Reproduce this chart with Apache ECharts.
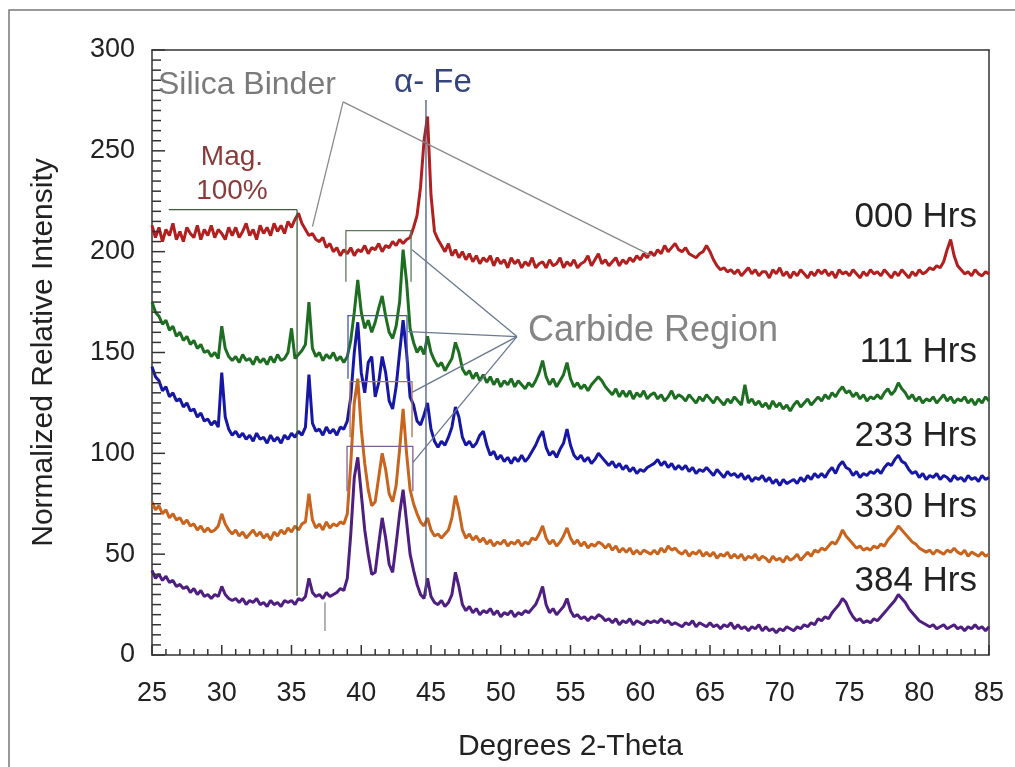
<!DOCTYPE html>
<html>
<head>
<meta charset="utf-8">
<script src="https://cdn.jsdelivr.net/npm/echarts@6/dist/echarts.min.js"></script>
<style>
  html, body { margin: 0; background: #fff; }
  #chart { width: 1015px; height: 767px; }
</style>
</head>
<body>
<div id="chart"></div>
<script>
// 2-theta scan positions (deg)
const theta = [
  25,25.25,25.5,25.75,26,26.25,26.5,26.75, 27,27.25,27.5,27.75,28,28.25,28.5,28.75,
  29,29.25,29.5,29.75,30,30.25,30.5,30.75, 31,31.25,31.5,31.75,32,32.25,32.5,32.75,
  33,33.25,33.5,33.75,34,34.25,34.5,34.75, 35,35.25,35.5,35.75,36,36.25,36.5,36.75,
  37,37.25,37.5,37.75,38,38.25,38.5,38.75, 39,39.25,39.5,39.75,40,40.25,40.5,40.75,
  41,41.25,41.5,41.75,42,42.25,42.5,42.75, 43,43.25,43.5,43.75,44,44.25,44.5,44.75,
  45,45.25,45.5,45.75,46,46.25,46.5,46.75, 47,47.25,47.5,47.75,48,48.25,48.5,48.75,
  49,49.25,49.5,49.75,50,50.25,50.5,50.75, 51,51.25,51.5,51.75,52,52.25,52.5,52.75,
  53,53.25,53.5,53.75,54,54.25,54.5,54.75, 55,55.25,55.5,55.75,56,56.25,56.5,56.75,
  57,57.25,57.5,57.75,58,58.25,58.5,58.75, 59,59.25,59.5,59.75,60,60.25,60.5,60.75,
  61,61.25,61.5,61.75,62,62.25,62.5,62.75, 63,63.25,63.5,63.75,64,64.25,64.5,64.75,
  65,65.25,65.5,65.75,66,66.25,66.5,66.75, 67,67.25,67.5,67.75,68,68.25,68.5,68.75,
  69,69.25,69.5,69.75,70,70.25,70.5,70.75, 71,71.25,71.5,71.75,72,72.25,72.5,72.75,
  73,73.25,73.5,73.75,74,74.25,74.5,74.75, 75,75.25,75.5,75.75,76,76.25,76.5,76.75,
  77,77.25,77.5,77.75,78,78.25,78.5,78.75, 79,79.25,79.5,79.75,80,80.25,80.5,80.75,
  81,81.25,81.5,81.75,82,82.25,82.5,82.75, 83,83.25,83.5,83.75,84,84.25,84.5,84.75,
  85
];

const hrs000 = [
  213,207,212,205,211,208,214,206, 210,205,212,209,207,213,206,211,
  208,213,207,211,209,206,212,208, 212,207,210,214,208,211,206,213,
  209,212,208,214,210,213,209,215, 212,216,219,214,211,208,209,206,
  205,207,202,204,200,202,198,201, 199,202,198,201,200,203,199,202,
  201,204,200,203,202,205,203,206, 204,206,207,212,218,232,255,267,
  228,210,206,203,200,204,198,201, 197,200,196,199,195,198,194,197,
  195,198,193,197,194,196,192,197, 194,196,192,195,193,197,192,194,
  195,192,196,193,194,197,192,195, 193,196,192,194,195,198,193,196,
  199,194,196,193,195,197,193,196, 194,197,195,198,196,199,197,200,
  198,201,199,203,200,202,204,201, 200,202,199,198,197,199,200,203,
  200,196,193,191,192,190,191,189, 191,188,190,192,189,191,188,190,
  190,187,191,189,192,188,190,187, 190,188,191,189,187,190,188,191,
  189,191,188,190,187,191,189,190, 188,191,189,187,190,188,191,189,
  190,188,191,189,187,190,188,191, 189,187,190,188,191,189,190,192,
  191,193,192,195,201,206,198,193, 191,189,190,188,191,189,188,190,
  189
];

const hrs111 = [
  175,170,168,164,166,161,163,158, 160,156,158,154,156,152,154,150,
  151,148,150,147,163,152,148,146, 148,145,149,146,147,144,148,145,
  147,144,148,145,149,146,147,150, 162,147,149,151,154,175,152,148,
  150,146,149,147,150,146,148,145, 148,156,170,186,170,162,166,160,
  165,172,178,168,160,157,163,175, 201,185,162,155,150,153,149,158,
  150,146,143,145,141,144,147,155, 150,142,139,141,137,140,136,139,
  135,138,134,137,133,136,134,137, 133,136,134,132,135,133,136,140,
  146,138,134,137,133,136,139,145, 137,133,135,132,134,131,134,136,
  138,136,133,131,129,132,128,131, 128,131,127,130,128,131,127,129,
  130,127,129,126,128,131,127,129, 128,126,129,127,125,128,126,129,
  127,125,128,126,124,127,125,128, 126,124,134,125,127,124,126,123,
  125,122,126,123,125,122,124,121, 124,126,123,125,127,124,126,128,
  126,129,127,130,128,131,133,130, 131,128,130,127,129,126,128,127,
  129,127,130,132,129,131,135,132, 130,127,129,126,128,125,127,126,
  128,125,127,129,126,128,125,127, 126,128,125,127,124,127,125,128,
  126
];

const hrs233 = [
  143,138,136,131,133,128,130,126, 127,123,125,121,122,118,120,116,
  117,114,116,113,140,118,112,109, 111,108,110,107,109,106,110,107,
  108,105,109,106,108,105,109,107, 110,108,111,109,113,139,115,111,
  112,109,113,110,112,109,113,112, 116,128,150,165,140,130,145,148,
  128,135,148,140,126,122,133,150, 166,150,128,124,116,114,119,125,
  112,106,103,106,104,108,113,123, 118,108,104,106,103,105,109,111,
  104,99,101,97,99,96,98,95, 98,96,99,96,98,101,104,108,
  111,103,99,101,98,102,105,112, 104,99,97,99,96,98,95,97,
  100,98,96,94,96,93,95,92, 94,91,93,90,92,91,93,94,
  95,97,94,96,93,95,92,94, 92,94,91,93,90,92,91,93,
  91,89,92,90,88,91,89,90, 88,90,87,89,86,88,87,89,
  86,88,85,87,84,87,85,86, 87,85,88,86,89,87,90,88,
  90,88,91,93,90,94,96,93, 92,89,91,88,90,89,91,90,
  92,90,93,95,94,97,99,96, 95,92,90,91,88,90,87,89,
  88,90,87,89,88,86,89,87, 88,86,89,87,88,86,89,87,
  88
];

const hrs330 = [
  76,72,74,70,72,68,70,67, 68,65,67,64,65,62,64,61,
  63,61,62,64,70,65,62,60, 62,59,61,58,60,62,59,61,
  58,60,57,61,59,62,60,63, 61,64,62,65,66,80,67,63,
  65,62,66,63,65,64,66,65, 70,95,125,137,112,95,82,74,
  76,88,100,92,80,76,84,102, 122,100,82,75,70,66,64,68,
  62,59,60,58,60,62,68,79, 72,62,58,60,57,59,56,58,
  55,57,54,56,55,57,54,56, 55,57,54,56,55,58,57,60,
  64,58,55,57,54,56,59,63, 58,55,57,54,56,53,55,54,
  56,55,53,55,52,54,51,53, 51,53,50,52,50,52,51,50,
  52,50,53,51,54,52,53,51, 50,52,49,51,50,52,49,51,
  49,51,48,50,49,51,48,50, 48,50,47,49,48,50,47,49,
  48,46,49,47,48,46,49,47, 48,50,47,49,51,49,52,51,
  53,52,54,56,55,58,62,59, 57,55,53,54,52,53,52,54,
  53,55,54,57,59,61,64,62, 60,58,56,55,53,52,51,52,
  50,52,51,50,52,51,53,51, 50,52,49,51,50,49,51,49,
  50
];

const hrs384 = [
  42,38,40,37,39,36,37,34, 35,33,34,31,33,30,32,29,
  30,28,30,29,34,30,28,27, 28,26,28,25,27,26,28,25,
  26,24,27,25,26,24,27,26, 27,25,28,27,29,38,31,29,
  30,28,31,29,30,31,33,32, 38,60,88,98,80,62,50,40,
  41,55,68,58,45,41,55,70, 82,66,50,42,35,30,28,38,
  29,26,25,27,24,26,30,41, 34,25,22,24,21,23,20,22,
  21,23,20,22,19,21,20,22, 19,21,20,22,21,23,25,29,
  34,25,21,23,20,22,24,28, 22,19,20,18,19,17,19,18,
  20,19,17,18,16,18,15,17, 16,18,15,17,16,15,17,16,
  17,16,18,16,17,15,16,15, 14,16,15,17,14,16,15,14,
  16,14,15,13,15,14,16,13, 15,13,14,12,14,13,15,12,
  14,12,13,11,13,12,14,13, 12,14,13,15,14,16,15,18,
  17,19,18,21,23,25,28,26, 22,19,17,18,16,17,16,18,
  17,19,21,23,25,27,30,28, 26,23,21,19,17,16,15,14,
  15,13,14,15,13,14,15,13, 14,12,14,13,15,13,14,12,
  14
];

const seriesNames = ['000 Hrs', '111 Hrs', '233 Hrs', '330 Hrs', '384 Hrs'];
const seriesValues = [hrs000, hrs111, hrs233, hrs330, hrs384];
const seriesColors = ['#B21F1F', '#1E6E22', '#1717A6', '#C8641E', '#4E1E80'];

const xTicks = { min: 25, max: 85, step: 5, minor: 1 };
const yTicks = { min: 0, max: 300, step: 50, minor: 5 };

const chart = echarts.init(document.getElementById('chart'));
const font = 'Liberation Sans, Arial, sans-serif';
const frame = { show: true, onZero: false, lineStyle: { color: '#333', width: 1.5 } };

chart.setOption({
  animation: false,
  backgroundColor: '#fff',
  grid: { left: 152, right: 26, top: 50, bottom: 111, show: false },
  xAxis: [{
    type: 'value', min: xTicks.min, max: xTicks.max, interval: xTicks.step, position: 'bottom',
    name: 'Degrees 2-Theta', nameLocation: 'middle', nameGap: 77,
    nameTextStyle: { fontFamily: font, fontSize: 30, color: '#222' },
    axisLine: frame, axisTick: { show: false }, splitLine: { show: false },
    axisLabel: { fontFamily: font, fontSize: 27, color: '#222', margin: 25 }
  }, {
    type: 'value', min: xTicks.min, max: xTicks.max, position: 'top',
    axisLine: frame, axisTick: { show: false }, axisLabel: { show: false }, splitLine: { show: false }
  }],
  yAxis: [{
    type: 'value', min: yTicks.min, max: yTicks.max, interval: yTicks.step, position: 'left',
    name: 'Normalized Relative Intensity', nameLocation: 'middle', nameGap: 93,
    nameTextStyle: { fontFamily: font, fontSize: 30, color: '#222' },
    axisLine: frame, axisTick: { show: false }, splitLine: { show: false },
    axisLabel: { fontFamily: font, fontSize: 27, color: '#222', margin: 17 }
  }, {
    type: 'value', min: yTicks.min, max: yTicks.max, position: 'right',
    axisLine: frame, axisTick: { show: false }, axisLabel: { show: false }, splitLine: { show: false }
  }],
  series: seriesNames.map((name, k) => ({
    name, type: 'line', showSymbol: false, smooth: false,
    data: theta.map((t, i) => [t, seriesValues[k][i]]),
    lineStyle: { color: seriesColors[k], width: 3 },
    itemStyle: { color: seriesColors[k] }
  }))
});

// annotations, in data units
const annoLines = [
  // [x1, y1, x2, y2, color]
  [26.2, 220.8, 35.4, 220.8, '#3f5a3f'],
  [35.4, 220.8, 35.4, 29.2, '#3f5a3f'],
  [38.7, 274.3, 36.5, 212.4, '#8a8a8a'],
  [38.7, 274.3, 60.8, 198.0, '#8a8a8a'],
  [44.64, 275.2, 44.64, 29.2, '#4a5a7a'],
  [37.4, 26.2, 37.4, 11.9, '#8a8a8a'],
  [51.16, 157.9, 43.64, 201.0, '#6a7890'],
  [51.16, 157.9, 43.35, 160.4, '#6a7890'],
  [51.16, 157.9, 43.64, 130.2, '#6a7890'],
  [51.16, 157.9, 43.71, 95.5, '#6a7890']
];
const annoBoxes = [
  // [xLeft, xRight, yTop, yBottom, color]
  [38.9, 43.57, 210.4, 185.1, '#5c7a5c'],
  [39.05, 43.28, 168.3, 137.0, '#4a55b0'],
  [39.2, 43.64, 135.6, 108.0, '#b07050'],
  [38.98, 43.7, 103.5, 81.2, '#806090']
];
const annoTexts = [
  // [text, x, y, align, color, size]
  ['Silica Binder', 25.43, 282.7, 'left', '#7a7a7a', 32],
  ['\u03b1- Fe', 45.14, 283.7, 'center', '#34457e', 33],
  ['Mag.', 30.73, 247.0, 'center', '#8b3a3a', 28],
  ['100%', 30.73, 229.7, 'center', '#8b3a3a', 28],
  ['Carbide Region', 51.95, 160.4, 'left', '#858585', 36],
  ['000 Hrs', 84.14, 216.8, 'right', '#222', 35],
  ['111 Hrs', 84.14, 150.0, 'right', '#222', 35],
  ['233 Hrs', 84.14, 108.4, 'right', '#222', 35],
  ['330 Hrs', 84.14, 73.3, 'right', '#222', 35],
  ['384 Hrs', 84.14, 36.6, 'right', '#222', 35]
];

const px = (x, y) => chart.convertToPixel({ gridIndex: 0 }, [x, y]);
const graphic = [];
graphic.push({ type: 'polyline', shape: { points: [[9, 767], [9, 10], [1015, 10]] },
  style: { stroke: '#777', lineWidth: 1.5, fill: null }, silent: true });

// inward ticks on the bottom and left axes (major / minor)
const tickPaths = [];
for (let i = 0; i <= (xTicks.max - xTicks.min) / xTicks.minor; i++) {
  const v = xTicks.min + i * xTicks.minor;
  const p = px(v, yTicks.min);
  const len = i % (xTicks.step / xTicks.minor) === 0 ? 10 : 6;
  tickPaths.push([[p[0], p[1]], [p[0], p[1] - len]]);
}
for (let i = 0; i <= (yTicks.max - yTicks.min) / yTicks.minor; i++) {
  const v = yTicks.min + i * yTicks.minor;
  const p = px(xTicks.min, v);
  const len = i % (yTicks.step / yTicks.minor) === 0 ? 13 : 9;
  tickPaths.push([[p[0], p[1]], [p[0] + len, p[1]]]);
}
tickPaths.forEach(pts => {
  graphic.push({ type: 'polyline', shape: { points: pts },
    style: { stroke: '#333', lineWidth: 1.5, fill: null }, z: 100 });
});

annoLines.forEach(([x1, y1, x2, y2, c]) => {
  const a = px(x1, y1), b = px(x2, y2);
  graphic.push({ type: 'line', shape: { x1: a[0], y1: a[1], x2: b[0], y2: b[1] },
    style: { stroke: c, lineWidth: 1.3 }, z: 100 });
});
annoBoxes.forEach(([xl, xr, yt, yb, c]) => {
  const p1 = px(xl, yb), p2 = px(xl, yt), p3 = px(xr, yt), p4 = px(xr, yb);
  graphic.push({ type: 'polyline', shape: { points: [p1, p2, p3, p4] },
    style: { stroke: c, lineWidth: 1.3, fill: null }, z: 100 });
});
annoTexts.forEach(([t, x, y, align, c, size]) => {
  const p = px(x, y);
  graphic.push({ type: 'text', x: p[0], y: p[1], z: 110,
    style: { text: t, fill: c, font: size + 'px ' + font, align, verticalAlign: 'middle' } });
});
chart.setOption({ graphic });
</script>
</body>
</html>
